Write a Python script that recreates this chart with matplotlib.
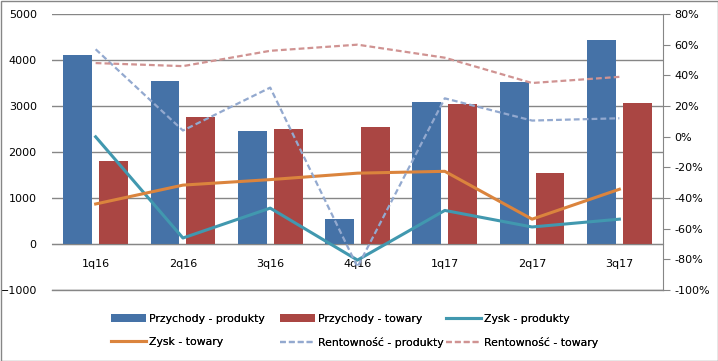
import matplotlib
matplotlib.use('Agg')
import matplotlib.pyplot as plt
import numpy as np
from matplotlib.patches import Rectangle
from matplotlib.ticker import FuncFormatter

quarters = ['1q16', '2q16', '3q16', '4q16', '1q17', '2q17', '3q17']
przychody_produkty = [4100, 3550, 2460, 550, 3090, 3530, 4440]
przychody_towary = [1800, 2770, 2500, 2550, 3050, 1550, 3070]
zysk_produkty = [2330, 130, 780, -350, 730, 370, 540]
zysk_towary = [870, 1280, 1400, 1540, 1580, 540, 1190]
rent_produkty = [57, 4, 32, -85, 25, 10.5, 12]
rent_towary = [48, 46, 56, 60, 51.5, 35, 39]

plt.rcParams['font.family'] = 'DejaVu Sans'
grid_c = '#868686'

fig = plt.figure(figsize=(7.18, 3.61), dpi=100)
ax = fig.add_axes([52/718, 1-290/361, (663-52)/718, (290-14)/361])
ax2 = ax.twinx()

x = np.arange(len(quarters))
w = 0.33
b1 = ax.bar(x - 0.205, przychody_produkty, w, color='#4572A7', zorder=2)
b2 = ax.bar(x + 0.205, przychody_towary, w, color='#AA4643', zorder=2)
l1, = ax.plot(x, zysk_produkty, color='#4198AF', lw=2.2, zorder=3)
l2, = ax.plot(x, zysk_towary, color='#DB843D', lw=2.2, zorder=3)
l3, = ax2.plot(x, rent_produkty, color='#93A9CF', lw=1.6, ls=(0, (2.6, 1.4)))
l4, = ax2.plot(x, rent_towary, color='#D09392', lw=1.6, ls=(0, (2.6, 1.4)))

ax.set_xlim(-0.5, 6.5)
ax.set_ylim(-1000, 5000)
ax.set_yticks(range(-1000, 5001, 1000))
ax.yaxis.grid(True, color=grid_c, lw=1)
ax.axhline(-1000, color=grid_c, lw=1, clip_on=False, zorder=0)
ax.set_axisbelow(True)
ax.set_xticks(x)
ax.set_xticklabels(quarters)
ax.spines['bottom'].set_position(('data', 0))
ax.spines['bottom'].set_color(grid_c)
for s in ['top', 'left', 'right']:
    ax.spines[s].set_visible(False)
ax.tick_params(axis='x', length=0, pad=11, labelsize=8)
ax.tick_params(axis='y', length=0, pad=11, labelsize=8)

ax2.set_ylim(-100, 80)
ax2.set_yticks(range(-100, 81, 20))
ax2.yaxis.set_major_formatter(FuncFormatter(lambda v, p: f'{v:.0f}%'))
for s in ['top', 'left', 'bottom']:
    ax2.spines[s].set_visible(False)
ax2.spines['right'].set_color(grid_c)
ax2.tick_params(axis='y', length=5, color=grid_c, labelsize=8, pad=3)

# legend: three columns placed like the original
handles = [b1, b2, l1, l2, l3, l4]
labels = ['Przychody - produkty', 'Przychody - towary', 'Zysk - produkty',
          'Zysk - towary', 'Rentowność - produkty', 'Rentowność - towary']
col_x = [111, 280, 446]
for c in range(3):
    leg = fig.legend([handles[c], handles[c + 3]], [labels[c], labels[c + 3]],
                     loc='upper left', bbox_to_anchor=(col_x[c]/718, 1-314/361),
                     frameon=False, fontsize=7.8,
                     handlelength=3.2, handleheight=0.74, handletextpad=0.28,
                     labelspacing=1.2, borderpad=0, borderaxespad=0)
    fig.add_artist(leg)

fig.patches.append(Rectangle((0.5/718, 0.5/361), 1-1/718, 1-1/361, transform=fig.transFigure,
                             fill=False, edgecolor=grid_c, lw=1))
fig.savefig('out.png', dpi=100)
